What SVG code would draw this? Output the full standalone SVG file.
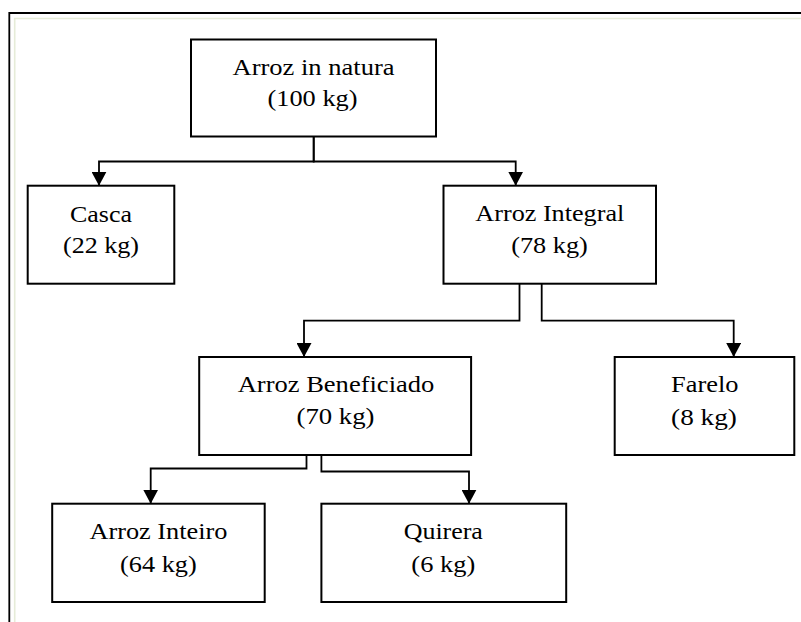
<svg xmlns="http://www.w3.org/2000/svg" width="801" height="622" viewBox="0 0 801 622">
<style>
.box{fill:#fff;stroke:#000;stroke-width:2}
.lbl{font-family:'Liberation Serif','Times New Roman',Times,serif;font-size:24px;fill:#000;text-anchor:middle}
.con{fill:none;stroke:#000;stroke-width:1.8}
</style>
<defs>
<marker id="arr" viewBox="0 0 14 15" refX="14" refY="7.5" markerWidth="14" markerHeight="15" markerUnits="userSpaceOnUse" orient="auto">
<path d="M0,0 L14,7.5 L0,15 Z" fill="#000"/>
</marker>
</defs>
<rect width="801" height="622" fill="#fff"/>
<g id="frame">
<path d="M801,18.5 H14.7 V622" fill="none" stroke="#e6ecd8" stroke-width="1.6"/>
<path d="M801,13 H9.3 V622" fill="none" stroke="#000" stroke-width="1.8"/>
</g>
<g id="connectors">
<path class="con" d="M313.7,137 V161.5 H99 V185.7" marker-end="url(#arr)"/>
<path class="con" d="M313.7,137 V161.5 H515.7 V185.7" marker-end="url(#arr)"/>
<path class="con" d="M519.5,284 V320.7 H304 V357" marker-end="url(#arr)"/>
<path class="con" d="M541.7,284 V320.7 H733.7 V357" marker-end="url(#arr)"/>
<path class="con" d="M306.5,455 V468.5 H150.7 V503.7" marker-end="url(#arr)"/>
<path class="con" d="M321.4,455 V471.5 H469 V503.7" marker-end="url(#arr)"/>
</g>
<g id="natura" font-family="Liberation Serif">
<rect class="box" x="191" y="39.5" width="245" height="97"/>
<text class="lbl" font-family="Liberation Serif" x="313.5" y="74.5" textLength="162" lengthAdjust="spacingAndGlyphs">Arroz in natura</text>
<text class="lbl" font-family="Liberation Serif" x="312.5" y="106" textLength="90" lengthAdjust="spacingAndGlyphs">(100 kg)</text>
</g>
<g id="casca">
<rect class="box" x="27.7" y="185.7" width="146.6" height="98"/>
<text class="lbl" font-family="Liberation Serif" x="101" y="221.5" textLength="62" lengthAdjust="spacingAndGlyphs">Casca</text>
<text class="lbl" font-family="Liberation Serif" x="101" y="253.3" textLength="76" lengthAdjust="spacingAndGlyphs">(22 kg)</text>
</g>
<g id="integral">
<rect class="box" x="443.5" y="185.7" width="212.5" height="98"/>
<text class="lbl" font-family="Liberation Serif" x="549.8" y="220.7" textLength="149" lengthAdjust="spacingAndGlyphs">Arroz Integral</text>
<text class="lbl" font-family="Liberation Serif" x="549.5" y="253.3" textLength="76.6" lengthAdjust="spacingAndGlyphs">(78 kg)</text>
</g>
<g id="beneficiado">
<rect class="box" x="199.2" y="357" width="271.9" height="98"/>
<text class="lbl" font-family="Liberation Serif" x="336" y="391.7" textLength="196.7" lengthAdjust="spacingAndGlyphs">Arroz Beneficiado</text>
<text class="lbl" font-family="Liberation Serif" x="335.5" y="424" textLength="78" lengthAdjust="spacingAndGlyphs">(70 kg)</text>
</g>
<g id="farelo">
<rect class="box" x="614.7" y="357" width="179.6" height="98"/>
<text class="lbl" font-family="Liberation Serif" x="704.7" y="391.7" textLength="67.4" lengthAdjust="spacingAndGlyphs">Farelo</text>
<text class="lbl" font-family="Liberation Serif" x="704" y="424.5" textLength="65.8" lengthAdjust="spacingAndGlyphs">(8 kg)</text>
</g>
<g id="inteiro">
<rect class="box" x="52.2" y="503.7" width="212.5" height="98.3"/>
<text class="lbl" font-family="Liberation Serif" x="158.4" y="539" textLength="138" lengthAdjust="spacingAndGlyphs">Arroz Inteiro</text>
<text class="lbl" font-family="Liberation Serif" x="158.4" y="571.5" textLength="76.7" lengthAdjust="spacingAndGlyphs">(64 kg)</text>
</g>
<g id="quirera">
<rect class="box" x="321.4" y="503.7" width="244.8" height="98.3"/>
<text class="lbl" font-family="Liberation Serif" x="443.3" y="539" textLength="79.2" lengthAdjust="spacingAndGlyphs">Quirera</text>
<text class="lbl" font-family="Liberation Serif" x="443.3" y="571.5" textLength="63.9" lengthAdjust="spacingAndGlyphs">(6 kg)</text>
</g>
</svg>
